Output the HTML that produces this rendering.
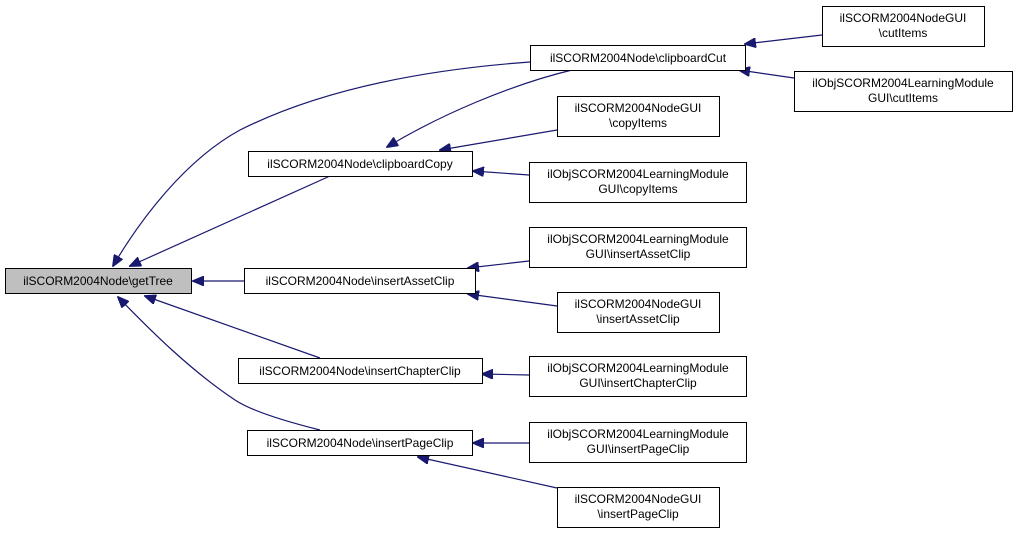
<!DOCTYPE html>
<html><head><meta charset="utf-8"><style>
html,body{margin:0;padding:0;background:#fff;}
svg{display:block;}
text{font-family:"Liberation Sans",sans-serif;font-size:12px;fill:#000;}
</style></head><body>
<svg width="1017" height="535" viewBox="0 0 1017 535" xmlns="http://www.w3.org/2000/svg">
<defs>
<marker id="a" markerWidth="12" markerHeight="10" refX="11" refY="5" orient="auto" markerUnits="userSpaceOnUse">
<path d="M0,0 L12,5 L0,10 Z" fill="#191970" stroke="#191970"/>
</marker>
</defs>
<g fill="none" stroke="#191970" stroke-width="1.2">
<!-- into getTree -->
<path d="M530,62 C420,70 320,90 240,130 C185,160 140,220 113,266" marker-end="url(#a)"/>
<path d="M330,176 L130,266" marker-end="url(#a)"/>
<path d="M244,281 L193,281" marker-end="url(#a)"/>
<path d="M320,358 L145,296" marker-end="url(#a)"/>
<path d="M320,430 C280,420 250,410 235,400 C190,370 150,330 118,297" marker-end="url(#a)"/>
<!-- clipboardCut -->
<path d="M572,70 C510,85 440,115 387,147" marker-end="url(#a)"/>
<path d="M822,35 L745,44" marker-end="url(#a)"/>
<path d="M794,78 L739,70" marker-end="url(#a)"/>
<!-- clipboardCopy -->
<path d="M557,130 L440,150" marker-end="url(#a)"/>
<path d="M529,175 L473,171" marker-end="url(#a)"/>
<!-- insertAssetClip -->
<path d="M529,261 L468,268" marker-end="url(#a)"/>
<path d="M557,306 L468,294" marker-end="url(#a)"/>
<!-- chapter -->
<path d="M529,375 L482,374" marker-end="url(#a)"/>
<!-- page -->
<path d="M529,443 L473,443" marker-end="url(#a)"/>
<path d="M557,488 L418,457" marker-end="url(#a)"/>
</g>
<g stroke="#000" stroke-width="1" fill="#fff">
<rect x="5.5" y="268.5" width="186" height="25" fill="#bfbfbf"/>
<rect x="530.5" y="45.5" width="215" height="25"/>
<rect x="822.5" y="6.5" width="162" height="40"/>
<rect x="794.5" y="71.5" width="218" height="40"/>
<rect x="248.5" y="151.5" width="224" height="25"/>
<rect x="557.5" y="96.5" width="162" height="40"/>
<rect x="529.5" y="162.5" width="217" height="40"/>
<rect x="244.5" y="268.5" width="231" height="25"/>
<rect x="529.5" y="227.5" width="217" height="40"/>
<rect x="557.5" y="292.5" width="162" height="40"/>
<rect x="238.5" y="358.5" width="244" height="25"/>
<rect x="529.5" y="356.5" width="217" height="40"/>
<rect x="247.5" y="430.5" width="225" height="25"/>
<rect x="529.5" y="422.5" width="217" height="40"/>
<rect x="557.5" y="487.5" width="162" height="40"/>
</g>
<g text-anchor="middle">
<text x="98" y="285">ilSCORM2004Node\getTree</text>
<text x="638" y="62">ilSCORM2004Node\clipboardCut</text>
<text x="903" y="22">ilSCORM2004NodeGUI</text><text x="903" y="37">\cutItems</text>
<text x="903" y="87">ilObjSCORM2004LearningModule</text><text x="903" y="102">GUI\cutItems</text>
<text x="360" y="168">ilSCORM2004Node\clipboardCopy</text>
<text x="638" y="112">ilSCORM2004NodeGUI</text><text x="638" y="127">\copyItems</text>
<text x="638" y="178">ilObjSCORM2004LearningModule</text><text x="638" y="193">GUI\copyItems</text>
<text x="360" y="285">ilSCORM2004Node\insertAssetClip</text>
<text x="638" y="243">ilObjSCORM2004LearningModule</text><text x="638" y="258">GUI\insertAssetClip</text>
<text x="638" y="308">ilSCORM2004NodeGUI</text><text x="638" y="323">\insertAssetClip</text>
<text x="360" y="375">ilSCORM2004Node\insertChapterClip</text>
<text x="638" y="372">ilObjSCORM2004LearningModule</text><text x="638" y="387">GUI\insertChapterClip</text>
<text x="360" y="447">ilSCORM2004Node\insertPageClip</text>
<text x="638" y="438">ilObjSCORM2004LearningModule</text><text x="638" y="453">GUI\insertPageClip</text>
<text x="638" y="503">ilSCORM2004NodeGUI</text><text x="638" y="518">\insertPageClip</text>
</g>
</svg>
</body></html>
